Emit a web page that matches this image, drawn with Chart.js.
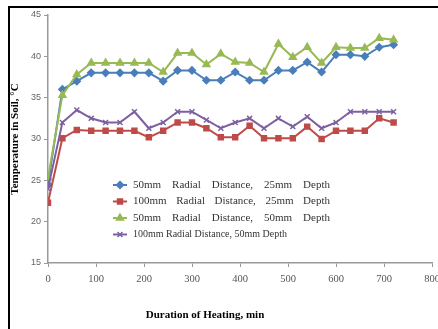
<!DOCTYPE html>
<html>
<head>
<meta charset="utf-8">
<script src="https://cdn.jsdelivr.net/npm/chart.js@4.4.1/dist/chart.umd.min.js"></script>
<style>
html, body { margin: 0; padding: 0; background: #fff; }
#wrap { position: relative; width: 438px; height: 329px; overflow: hidden; }
#frame { position: absolute; left: 8px; top: 6px; width: 440px; height: 340px;
         border-top: 2px solid #000; border-left: 2px solid #000; }
#myChart { position: absolute; left: 0; top: 0; }
</style>
</head>
<body>
<div id="wrap">
  <div id="frame"></div>
  <canvas id="myChart" width="438" height="329"></canvas>
</div>
<script>
// duration of heating, min
var minutes = [0, 30, 60, 90, 120, 150, 180, 210, 240, 270, 300, 330, 360,
               390, 420, 450, 480, 510, 540, 570, 600, 630, 660, 690, 720];

// soil temperature, C
var r50d25 = [24.5, 36, 37, 38, 38, 38, 38, 38, 37, 38.3, 38.3, 37.1, 37.1,
              38.1, 37.1, 37.1, 38.3, 38.3, 39.3, 38.1, 40.2, 40.2, 40, 41.1, 41.4];
var r100d25 = [22.3, 30.1, 31.1, 31, 31, 31, 31, 30.2, 31, 32, 32, 31.3, 30.2,
               30.2, 31.6, 30.1, 30.1, 30.1, 31.5, 30, 31, 31, 31, 32.5, 32];
var r50d50 = [25.3, 35.3, 37.8, 39.2, 39.2, 39.2, 39.2, 39.2, 38.1, 40.4, 40.4, 39, 40.3,
              39.3, 39.2, 38.1, 41.5, 39.9, 41.1, 39.2, 41.1, 41, 41, 42.2, 42];
var r100d50 = [24, 32, 33.5, 32.5, 32, 32, 33.3, 31.3, 32, 33.3, 33.3, 32.3, 31.3,
               32, 32.5, 31.3, 32.5, 31.5, 32.7, 31.3, 32, 33.3, 33.3, 33.3, 33.3];

var seriesNames = ['50mm Radial Distance, 25mm Depth', '100mm Radial Distance, 25mm Depth',
                   '50mm Radial Distance, 50mm Depth', '100mm Radial Distance, 50mm Depth'];

function pts(ys) {
    return ys.map(function (y, i) { return {x: minutes[i], y: y}; });
}

// legend drawn inside the plot, like the original
var insideLegend = {
    id: 'insideLegend',
    afterDraw: function (chart) {
        var ctx = chart.ctx;
        ctx.save();
        ctx.font = '11px "Liberation Serif"';
        ctx.textBaseline = 'middle';
        chart.data.datasets.forEach(function (ds, i) {
            var y = 185 + i * 16.5;
            ctx.strokeStyle = ds.borderColor;
            ctx.fillStyle = ds.backgroundColor;
            ctx.lineWidth = 2;
            ctx.beginPath();
            ctx.moveTo(113, y);
            ctx.lineTo(127, y);
            ctx.stroke();
            ctx.lineWidth = 1.5;
            Chart.helpers.drawPoint(ctx, {pointStyle: ds.pointStyle, radius: ds.pointRadius, borderWidth: 1.5}, 120, y);
            ctx.fillStyle = '#333';
            if (i < 3) {
                var words = ds.label.split(' ');
                var total = 0;
                words.forEach(function (w) { total += ctx.measureText(w).width; });
                var gap = (197 - total) / (words.length - 1);
                var x = 133;
                words.forEach(function (w) {
                    ctx.fillText(w, x, y);
                    x += ctx.measureText(w).width + gap;
                });
            } else {
                ctx.fillText(ds.label, 133, y, 154);
            }
        });
        // x axis title, sits left of centre in the original
        ctx.font = 'bold 11px "Liberation Serif"';
        ctx.fillStyle = '#000';
        ctx.textAlign = 'center';
        ctx.fillText('Duration of Heating, min', 205, 315);
        ctx.restore();
    }
};

var ctx = document.getElementById('myChart').getContext('2d');
var myChart = new Chart(ctx, {
    type: 'line',
    data: {
        datasets: [{
            label: seriesNames[0],
            data: pts(r50d25),
            borderColor: '#4a7ebb',
            backgroundColor: '#4a7ebb',
            pointStyle: 'rectRot',
            pointRadius: 3.5,
            order: 4
        }, {
            label: seriesNames[1],
            data: pts(r100d25),
            borderColor: '#be4b48',
            backgroundColor: '#be4b48',
            pointStyle: 'rect',
            pointRadius: 3.5,
            order: 3
        }, {
            label: seriesNames[2],
            data: pts(r50d50),
            borderColor: '#98b954',
            backgroundColor: '#98b954',
            pointStyle: 'triangle',
            pointRadius: 4,
            order: 2
        }, {
            label: seriesNames[3],
            data: pts(r100d50),
            borderColor: '#7d60a0',
            backgroundColor: '#7d60a0',
            pointStyle: 'crossRot',
            pointRadius: 3.5,
            order: 1
        }]
    },
    options: {
        responsive: false,
        animation: false,
        layout: {
            padding: {top: 15, left: 0, right: 6, bottom: 0}
        },
        elements: {
            line: { borderWidth: 2, tension: 0 },
            point: { borderWidth: 1.5 }
        },
        plugins: {
            legend: { display: false },
            tooltip: { enabled: false }
        },
        scales: {
            x: {
                type: 'linear',
                min: 0,
                max: 800,
                ticks: {
                    stepSize: 100,
                    padding: 6,
                    color: '#555',
                    font: { family: 'Liberation Serif', size: 10.5 },
                    maxRotation: 0
                },
                grid: { drawOnChartArea: false, tickLength: 4, color: '#999' },
                border: { color: '#999', width: 1.5 },
                afterFit: function (scale) {
                    scale.height = 66;
                    scale.paddingRight = 0;
                    scale.paddingLeft = 0;
                }
            },
            y: {
                min: 15,
                max: 45,
                ticks: {
                    stepSize: 5,
                    padding: 3,
                    color: '#666',
                    font: { family: 'Liberation Sans', size: 9 }
                },
                grid: { drawOnChartArea: false, tickLength: 4, color: '#999' },
                border: { color: '#999', width: 1.5 },
                title: {
                    display: true,
                    text: 'Temperature in Soil, °C',
                    color: '#000',
                    padding: { top: 9, bottom: 0 },
                    font: { family: 'Liberation Serif', size: 11, weight: 'bold' }
                },
                afterFit: function (scale) {
                    scale.width = 48;
                }
            }
        }
    },
    plugins: [insideLegend]
});
</script>
</body>
</html>
